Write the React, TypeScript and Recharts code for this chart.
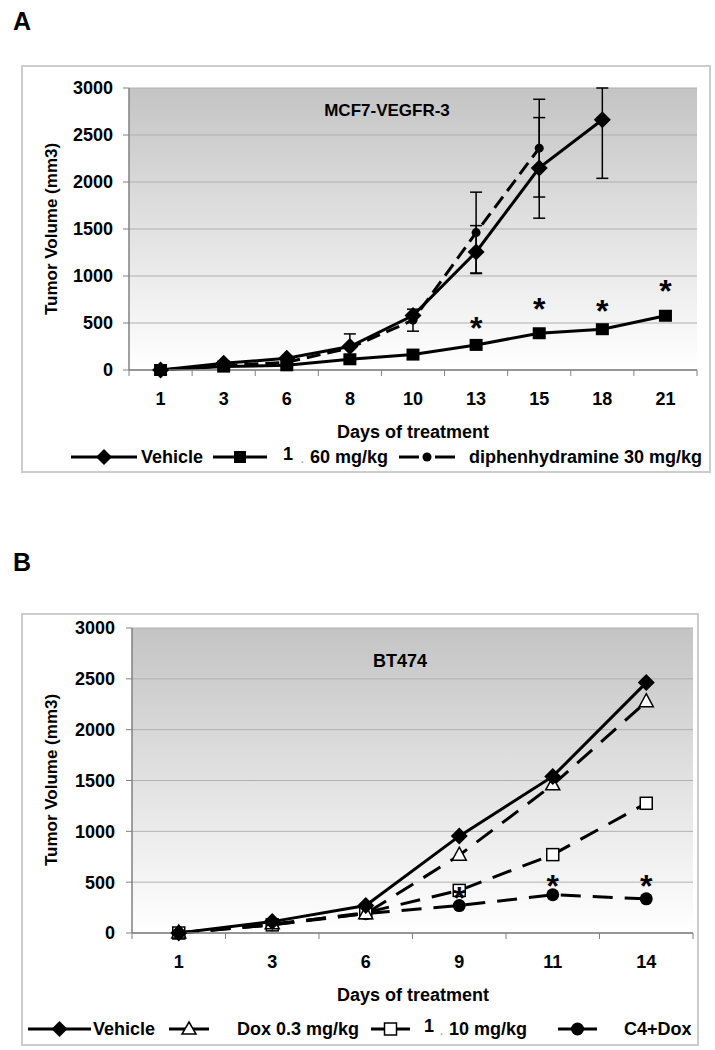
import React from 'react';
import { ComposedChart, Line, XAxis, YAxis, CartesianGrid, ErrorBar, ReferenceDot } from 'recharts';

const FONT = '"Liberation Sans", Arial, Helvetica, sans-serif';

// ---------- Panel A data (MCF7-VEGFR-3) ----------
const daysA = ['1', '3', '6', '8', '10', '13', '15', '18', '21'];
const vehicleA = [0, 71, 125, 249, 580, 1256, 2150, 2662, null];
const vehicleAErr: any[] = [null, null, null, 135, null, [230, 280], 535, [623, 338], null];
const drugA = [0, 36, 50, 114, 164, 267, 391, 434, 577];
const drugAErr: any[] = [null, 15, 18, 30, 35, 30, 40, 40, 45];
const diphenA = [0, 46, 82, 235, 530, 1462, 2360, null, null];
const diphenAErr: any[] = [null, null, null, null, 117, 430, 520, null, null];
const starDaysA = ['13', '15', '18', '21'];
const starValsA = [527, 733, 715, 925];

// ---------- Panel B data (BT474) ----------
const daysB = ['1', '3', '6', '9', '11', '14'];
const vehicleB = [0, 112, 270, 953, 1540, 2463];
const doxB = [0, 90, 190, 765, 1457, 2275];
const tenB = [0, 80, 200, 419, 771, 1276];
const comboB = [0, 80, 190, 270, 376, 336];
const starDaysB = ['9', '11', '14'];
const starValsB = [419, 544, 544];

const yTicks = [0, 500, 1000, 1500, 2000, 2500, 3000];

const dataA = daysA.map((day, i) => ({
  day,
  vehicle: vehicleA[i],
  vehicleErr: vehicleAErr[i],
  drug: drugA[i],
  drugErr: drugAErr[i],
  diphen: diphenA[i],
  diphenErr: diphenAErr[i],
}));

const dataB = daysB.map((day, i) => ({
  day,
  vehicle: vehicleB[i],
  dox: doxB[i],
  ten: tenB[i],
  combo: comboB[i],
}));

// ---------- markers ----------
const ok = (p: any) => p && p.cx != null && p.cy != null && p.value != null && !isNaN(p.cx) && !isNaN(p.cy);

const diamondDot = (p: any) => {
  if (!ok(p)) return <g key={`dm${p.index}`} />;
  const s = 8.5;
  const { cx, cy } = p;
  return <path key={`dm${p.index}`} d={`M${cx},${cy - s}L${cx + s},${cy}L${cx},${cy + s}L${cx - s},${cy}Z`} fill="#000" />;
};
const squareDot = (p: any) => {
  if (!ok(p)) return <g key={`sq${p.index}`} />;
  return <rect key={`sq${p.index}`} x={p.cx - 6.5} y={p.cy - 6} width={13} height={12} fill="#000" />;
};
const smallCircleDot = (p: any) => {
  if (!ok(p)) return <g key={`sc${p.index}`} />;
  return <circle key={`sc${p.index}`} cx={p.cx} cy={p.cy} r={4.5} fill="#000" />;
};
const circleDot = (p: any) => {
  if (!ok(p)) return <g key={`c${p.index}`} />;
  return <circle key={`c${p.index}`} cx={p.cx} cy={p.cy} r={6.5} fill="#000" />;
};
const openSquareDot = (p: any) => {
  if (!ok(p)) return <g key={`os${p.index}`} />;
  return <rect key={`os${p.index}`} x={p.cx - 6} y={p.cy - 6} width={12} height={12} fill="#fff" stroke="#000" strokeWidth={1.5} />;
};
const openTriangleDot = (p: any) => {
  if (!ok(p)) return <g key={`ot${p.index}`} />;
  const { cx, cy } = p;
  return <path key={`ot${p.index}`} d={`M${cx},${cy - 8}L${cx + 7},${cy + 5}L${cx - 7},${cy + 5}Z`} fill="#fff" stroke="#000" strokeWidth={1.5} />;
};

const starShape = (p: any) => (
  <text x={p.cx} y={p.cy + 19} textAnchor="middle" fontSize={32} fontFamily={FONT} fontWeight="bold" fill="#000">*</text>
);

const XTick = (props: any) => {
  const { x, y, payload, band, last } = props;
  const half = band / 2;
  return (
    <g>
      <line x1={x - half} x2={x - half} y1={y} y2={y + 6} stroke="#808080" strokeWidth={1} />
      {String(payload.value) === last && <line x1={x + half} x2={x + half} y1={y} y2={y + 6} stroke="#808080" strokeWidth={1} />}
      <text x={x} y={y + 35} textAnchor="middle" fontSize={18} fontWeight="bold" fontFamily={FONT} fill="#000">
        {payload.value}
      </text>
    </g>
  );
};

// ---------- HTML text helpers ----------
const Abs = ({ x, y, size = 18, children, rotate = false, anchor = 'middle', color = '#000' }: any) => (
  <div
    style={{
      position: 'absolute',
      left: x,
      top: y,
      transform: `translate(${anchor === 'start' ? '0' : '-50%'}, -50%)${rotate ? ' rotate(-90deg)' : ''}`,
      fontSize: size,
      fontWeight: 'bold',
      lineHeight: 1,
      whiteSpace: 'nowrap',
      fontFamily: FONT,
      color,
    }}
  >
    {children}
  </div>
);

const LegendIcon = ({ x1, x2, y, marker, dashed = false }: any) => {
  const w = x2 - x1;
  const c = w / 2;
  const h = 20;
  const m = h / 2;
  let mk: any = null;
  if (marker === 'diamond') mk = <path d={`M${c},${m - 8}L${c + 8},${m}L${c},${m + 8}L${c - 8},${m}Z`} fill="#000" />;
  if (marker === 'square') mk = <rect x={c - 6} y={m - 6} width={12} height={12} fill="#000" />;
  if (marker === 'smallCircle') mk = <circle cx={c} cy={m} r={4.5} fill="#000" />;
  if (marker === 'circle') mk = <circle cx={c} cy={m} r={6.5} fill="#000" />;
  if (marker === 'openSquare') mk = <rect x={c - 6} y={m - 6} width={12} height={12} fill="#fff" stroke="#000" strokeWidth={1.5} />;
  if (marker === 'openTriangle') mk = <path d={`M${c},${m - 7}L${c + 7},${m + 5}L${c - 7},${m + 5}Z`} fill="#fff" stroke="#000" strokeWidth={1.5} />;
  return (
    <svg width={w} height={h} style={{ position: 'absolute', left: x1, top: y - m, overflow: 'visible' }}>
      {dashed ? (
        <g stroke="#000" strokeWidth={3}>
          <line x1={0} x2={c - 8} y1={m} y2={m} />
          <line x1={c + 8} x2={w} y1={m} y2={m} />
        </g>
      ) : (
        <line x1={0} x2={w} y1={m} y2={m} stroke="#000" strokeWidth={3} />
      )}
      {mk}
    </svg>
  );
};

const axisStroke = { stroke: '#808080', strokeWidth: 1.5 };
const tickFont = { fontSize: 18, fontWeight: 'bold', fill: '#000', fontFamily: FONT } as any;

function PanelA() {
  const W = 690;
  const H = 408;
  const plotW = W - 108 - 14;
  const band = plotW / daysA.length;
  const pad = { left: band / 2, right: band / 2 };
  return (
    <>
      <div style={{ position: 'absolute', left: 13, top: 9, fontSize: 25, fontWeight: 'bold', lineHeight: '25px', fontFamily: FONT }}>A</div>
      <div style={{ position: 'absolute', left: 21, top: 65, width: W, height: H, border: '2px solid #cccccc', boxSizing: 'border-box' }} />
      <div style={{ position: 'absolute', left: 21, top: 65 }}>
        <ComposedChart width={W} height={H} data={dataA} margin={{ top: 23, right: 14, bottom: 63, left: 0 }}>
          <CartesianGrid vertical={false} stroke="#b0b0b0" fill="url(#plotGrad)" />
          <XAxis dataKey="day" padding={pad} interval={0} tickLine={false} tickSize={0} tickMargin={0} height={40} axisLine={axisStroke} tick={<XTick band={band} last={daysA[daysA.length - 1]} />} />
          <XAxis xAxisId="top" orientation="top" dataKey="day" padding={pad} height={0} tick={false} tickLine={false} axisLine={axisStroke} />
          <YAxis width={108} domain={[0, 3000]} ticks={yTicks} interval={0} tickSize={6} tickMargin={10} tickLine={{ stroke: '#808080' }} axisLine={axisStroke} tick={tickFont} />
          <YAxis yAxisId="right" orientation="right" width={0} domain={[0, 3000]} tick={false} tickLine={false} axisLine={axisStroke} />
          <Line dataKey="drug" stroke="#000" strokeWidth={3} dot={squareDot} activeDot={false} isAnimationActive={false}>
            <ErrorBar dataKey="drugErr" width={6} stroke="#000" strokeWidth={1.5} direction="y" />
          </Line>
          <Line dataKey="diphen" stroke="#000" strokeWidth={3} strokeDasharray="14 7" dot={smallCircleDot} activeDot={false} isAnimationActive={false}>
            <ErrorBar dataKey="diphenErr" width={6} stroke="#000" strokeWidth={1.5} direction="y" />
          </Line>
          <Line dataKey="vehicle" stroke="#000" strokeWidth={3} dot={diamondDot} activeDot={false} isAnimationActive={false}>
            <ErrorBar dataKey="vehicleErr" width={6} stroke="#000" strokeWidth={1.5} direction="y" />
          </Line>
          {starDaysA.map((d, i) => (
            <ReferenceDot key={`sa${d}`} x={d} y={starValsA[i]} r={0} shape={starShape} />
          ))}
        </ComposedChart>
      </div>
      <Abs x={387} y={110} size={17}>MCF7-VEGFR-3</Abs>
      <Abs x={51} y={229} size={17} rotate>Tumor Volume (mm3)</Abs>
      <Abs x={413} y={432}>Days of treatment</Abs>
      <LegendIcon x1={71} x2={137} y={457} marker="diamond" />
      <Abs x={141} y={457} anchor="start">Vehicle</Abs>
      <LegendIcon x1={213} x2={267} y={457} marker="square" />
      <Abs x={283} y={454} anchor="start">1</Abs>
      <Abs x={301} y={460} anchor="start" size={10} color="#aaaaaa">.</Abs>
      <Abs x={310} y={457} anchor="start">60 mg/kg</Abs>
      <LegendIcon x1={399} x2={455} y={457} marker="smallCircle" dashed />
      <Abs x={469} y={457} anchor="start">diphenhydramine 30 mg/kg</Abs>
    </>
  );
}

function PanelB() {
  const W = 678;
  const H = 433;
  const plotW = W - 111 - 6;
  const band = plotW / daysB.length;
  const pad = { left: band / 2, right: band / 2 };
  return (
    <>
      <div style={{ position: 'absolute', left: 13, top: 550, fontSize: 25, fontWeight: 'bold', lineHeight: '25px', fontFamily: FONT }}>B</div>
      <div style={{ position: 'absolute', left: 21, top: 613, width: W, height: H, border: '2px solid #cccccc', boxSizing: 'border-box' }} />
      <div style={{ position: 'absolute', left: 21, top: 613 }}>
        <ComposedChart width={W} height={H} data={dataB} margin={{ top: 15, right: 6, bottom: 73, left: 0 }}>
          <CartesianGrid vertical={false} stroke="#b0b0b0" fill="url(#plotGrad)" />
          <XAxis dataKey="day" padding={pad} interval={0} tickLine={false} tickSize={0} tickMargin={0} height={40} axisLine={axisStroke} tick={<XTick band={band} last={daysB[daysB.length - 1]} />} />
          <XAxis xAxisId="top" orientation="top" dataKey="day" padding={pad} height={0} tick={false} tickLine={false} axisLine={axisStroke} />
          <YAxis width={111} domain={[0, 3000]} ticks={yTicks} interval={0} tickSize={6} tickMargin={11} tickLine={{ stroke: '#808080' }} axisLine={axisStroke} tick={tickFont} />
          <YAxis yAxisId="right" orientation="right" width={0} domain={[0, 3000]} tick={false} tickLine={false} axisLine={axisStroke} />
          <Line dataKey="combo" stroke="#000" strokeWidth={3} strokeDasharray="20 12" dot={circleDot} activeDot={false} isAnimationActive={false} />
          <Line dataKey="ten" stroke="#000" strokeWidth={3} strokeDasharray="20 12" dot={openSquareDot} activeDot={false} isAnimationActive={false} />
          <Line dataKey="dox" stroke="#000" strokeWidth={3} strokeDasharray="20 12" dot={openTriangleDot} activeDot={false} isAnimationActive={false} />
          <Line dataKey="vehicle" stroke="#000" strokeWidth={3} dot={diamondDot} activeDot={false} isAnimationActive={false} />
          {starDaysB.map((d, i) => (
            <ReferenceDot key={`sb${d}`} x={d} y={starValsB[i]} r={0} shape={starShape} />
          ))}
        </ComposedChart>
      </div>
      <Abs x={400} y={661} size={18}>BT474</Abs>
      <Abs x={51} y={780} size={17} rotate>Tumor Volume (mm3)</Abs>
      <Abs x={413} y={995}>Days of treatment</Abs>
      <LegendIcon x1={28} x2={91} y={1029} marker="diamond" />
      <Abs x={93} y={1029} anchor="start">Vehicle</Abs>
      <LegendIcon x1={169} x2={209} y={1029} marker="openTriangle" />
      <Abs x={237} y={1029} anchor="start">Dox 0.3 mg/kg</Abs>
      <LegendIcon x1={371} x2={410} y={1029} marker="openSquare" />
      <Abs x={424} y={1026} anchor="start">1</Abs>
      <Abs x={440} y={1032} anchor="start" size={10} color="#aaaaaa">.</Abs>
      <Abs x={449} y={1029} anchor="start">10 mg/kg</Abs>
      <LegendIcon x1={558} x2={597} y={1029} marker="circle" />
      <Abs x={624} y={1029} anchor="start">C4+Dox</Abs>
    </>
  );
}

export default function App() {
  return (
    <div style={{ position: 'absolute', left: 0, top: 0, width: 715, height: 1050, background: '#fff', fontFamily: FONT, color: '#000', overflow: 'hidden' }}>
      <svg width={0} height={0} style={{ position: 'absolute' }}>
        <defs>
          <linearGradient id="plotGrad" x1="0" y1="0" x2="0" y2="1">
            <stop offset="0%" stopColor="#c4c4c4" />
            <stop offset="100%" stopColor="#ffffff" />
          </linearGradient>
        </defs>
      </svg>
      <PanelA />
      <PanelB />
    </div>
  );
}
